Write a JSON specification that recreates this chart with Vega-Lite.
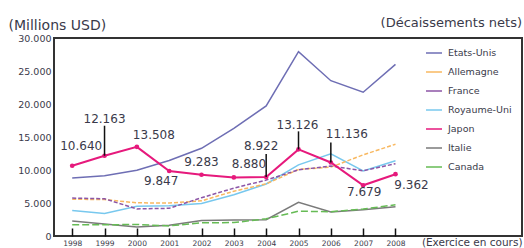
{
  "$schema": "https://vega.github.io/schema/vega-lite/v6.json",
  "width": 468,
  "height": 198,
  "autosize": "none",
  "padding": {"left": 54, "top": 38, "right": 2, "bottom": 12},
  "background": "white",
  "config": {
    "locale": {"number": {"decimal": ",", "thousands": ".", "grouping": [3], "currency": ["", ""]}},
    "view": {"stroke": "#333333", "strokeWidth": 2},
    "font": "DejaVu Sans"
  },
  "title": {"text": "(Décaissements nets)", "anchor": "end", "frame": "group", "fontSize": 13, "fontWeight": "normal", "font": "DejaVu Sans", "color": "#3a3a4a", "offset": -12},
  "data": {"values": [
    {"country": "Etats-Unis", "year": 1998, "value": 8786},
    {"country": "Etats-Unis", "year": 1999, "value": 9145},
    {"country": "Etats-Unis", "year": 2000, "value": 9955},
    {"country": "Etats-Unis", "year": 2001, "value": 11429},
    {"country": "Etats-Unis", "year": 2002, "value": 13290},
    {"country": "Etats-Unis", "year": 2003, "value": 16320},
    {"country": "Etats-Unis", "year": 2004, "value": 19705},
    {"country": "Etats-Unis", "year": 2005, "value": 27935},
    {"country": "Etats-Unis", "year": 2006, "value": 23532},
    {"country": "Etats-Unis", "year": 2007, "value": 21787},
    {"country": "Etats-Unis", "year": 2008, "value": 26008},
    {"country": "Allemagne", "year": 1998, "value": 5581},
    {"country": "Allemagne", "year": 1999, "value": 5515},
    {"country": "Allemagne", "year": 2000, "value": 5030},
    {"country": "Allemagne", "year": 2001, "value": 4990},
    {"country": "Allemagne", "year": 2002, "value": 5324},
    {"country": "Allemagne", "year": 2003, "value": 6784},
    {"country": "Allemagne", "year": 2004, "value": 7900},
    {"country": "Allemagne", "year": 2005, "value": 10082},
    {"country": "Allemagne", "year": 2006, "value": 10435},
    {"country": "Allemagne", "year": 2007, "value": 12291},
    {"country": "Allemagne", "year": 2008, "value": 13910},
    {"country": "France", "year": 1998, "value": 5742},
    {"country": "France", "year": 1999, "value": 5639},
    {"country": "France", "year": 2000, "value": 4105},
    {"country": "France", "year": 2001, "value": 4198},
    {"country": "France", "year": 2002, "value": 5800},
    {"country": "France", "year": 2003, "value": 7253},
    {"country": "France", "year": 2004, "value": 8473},
    {"country": "France", "year": 2005, "value": 10026},
    {"country": "France", "year": 2006, "value": 10601},
    {"country": "France", "year": 2007, "value": 9884},
    {"country": "France", "year": 2008, "value": 10957},
    {"country": "Royaume-Uni", "year": 1998, "value": 3864},
    {"country": "Royaume-Uni", "year": 1999, "value": 3426},
    {"country": "Royaume-Uni", "year": 2000, "value": 4501},
    {"country": "Royaume-Uni", "year": 2001, "value": 4579},
    {"country": "Royaume-Uni", "year": 2002, "value": 4924},
    {"country": "Royaume-Uni", "year": 2003, "value": 6262},
    {"country": "Royaume-Uni", "year": 2004, "value": 7883},
    {"country": "Royaume-Uni", "year": 2005, "value": 10772},
    {"country": "Royaume-Uni", "year": 2006, "value": 12459},
    {"country": "Royaume-Uni", "year": 2007, "value": 9849},
    {"country": "Royaume-Uni", "year": 2008, "value": 11409},
    {"country": "Japon", "year": 1998, "value": 10640},
    {"country": "Japon", "year": 1999, "value": 12163},
    {"country": "Japon", "year": 2000, "value": 13508},
    {"country": "Japon", "year": 2001, "value": 9847},
    {"country": "Japon", "year": 2002, "value": 9283},
    {"country": "Japon", "year": 2003, "value": 8880},
    {"country": "Japon", "year": 2004, "value": 8922},
    {"country": "Japon", "year": 2005, "value": 13126},
    {"country": "Japon", "year": 2006, "value": 11136},
    {"country": "Japon", "year": 2007, "value": 7679},
    {"country": "Japon", "year": 2008, "value": 9362},
    {"country": "Italie", "year": 1998, "value": 2278},
    {"country": "Italie", "year": 1999, "value": 1806},
    {"country": "Italie", "year": 2000, "value": 1376},
    {"country": "Italie", "year": 2001, "value": 1627},
    {"country": "Italie", "year": 2002, "value": 2332},
    {"country": "Italie", "year": 2003, "value": 2433},
    {"country": "Italie", "year": 2004, "value": 2462},
    {"country": "Italie", "year": 2005, "value": 5091},
    {"country": "Italie", "year": 2006, "value": 3641},
    {"country": "Italie", "year": 2007, "value": 3971},
    {"country": "Italie", "year": 2008, "value": 4444},
    {"country": "Canada", "year": 1998, "value": 1707},
    {"country": "Canada", "year": 1999, "value": 1706},
    {"country": "Canada", "year": 2000, "value": 1744},
    {"country": "Canada", "year": 2001, "value": 1533},
    {"country": "Canada", "year": 2002, "value": 2004},
    {"country": "Canada", "year": 2003, "value": 2031},
    {"country": "Canada", "year": 2004, "value": 2599},
    {"country": "Canada", "year": 2005, "value": 3756},
    {"country": "Canada", "year": 2006, "value": 3684},
    {"country": "Canada", "year": 2007, "value": 4080},
    {"country": "Canada", "year": 2008, "value": 4725}
  ]},
  "encoding": {
    "x": {"field": "year", "type": "quantitative",
      "scale": {"domain": [1997.437, 2011.913], "nice": false, "zero": false},
      "axis": {"values": [1998, 1999, 2000, 2001, 2002, 2003, 2004, 2005, 2006, 2007, 2008], "format": "d", "grid": false, "domain": false,
        "tickSize": -8, "tickColor": "#111111", "tickWidth": 1.5, "labelFontSize": 7.5, "labelPadding": 11, "labelColor": "#3a3a4a",
        "title": "(Exercice en cours)", "titleX": 468, "titleY": 6, "titleAlign": "right", "titleBaseline": "middle", "titleFontSize": 10.5, "titleFontWeight": "normal", "titleColor": "#3a3a4a"}},
    "y": {"field": "value", "type": "quantitative",
      "scale": {"domain": [0, 30000], "nice": false},
      "axis": {"values": [0, 5000, 10000, 15000, 20000, 25000, 30000], "format": ",.0f", "grid": false, "domain": false, "ticks": false,
        "labelPadding": 3, "labelFontSize": 9.5, "labelColor": "#3a3a4a",
        "title": "(Millions USD)", "titleAngle": 0, "titleX": -46, "titleY": -9, "titleAlign": "left", "titleBaseline": "alphabetic", "titleFontSize": 14, "titleFontWeight": "normal", "titleColor": "#3a3a4a"}}
  },
  "layer": [
    {
      "transform": [{"filter": "datum.country == 'Etats-Unis' || datum.country == 'Royaume-Uni' || datum.country == 'Italie'"}],
      "mark": {"type": "line", "strokeWidth": 1.5},
      "encoding": {
        "color": {"field": "country", "type": "nominal",
          "scale": {"domain": ["Etats-Unis", "Allemagne", "France", "Royaume-Uni", "Japon", "Italie", "Canada"],
                    "range": ["#6e6eb4", "#f8b860", "#8c55a6", "#78c8ee", "#e6197c", "#7a7a7a", "#66bb55"]},
          "legend": {"orient": "none", "legendX": 371, "legendY": 6, "title": null, "symbolType": "stroke", "symbolSize": 256, "symbolStrokeWidth": 1.5,
                     "labelFontSize": 9.5, "labelColor": "#3a3a4a", "rowPadding": 5, "padding": 0, "labelOffset": 5}}
      }
    },
    {
      "transform": [{"filter": "datum.country == 'Allemagne' || datum.country == 'France'"}],
      "mark": {"type": "line", "strokeWidth": 1.5, "strokeDash": [4, 2]},
      "encoding": {"color": {"field": "country", "type": "nominal"}}
    },
    {
      "transform": [{"filter": "datum.country == 'Canada'"}],
      "mark": {"type": "line", "strokeWidth": 1.5, "strokeDash": [7, 3]},
      "encoding": {"color": {"field": "country", "type": "nominal"}}
    },
    {
      "transform": [{"filter": "datum.country == 'Japon'"}],
      "mark": {"type": "line", "strokeWidth": 2, "color": "#e6197c"},
      "encoding": {}
    },
    {
      "transform": [{"filter": "datum.country == 'Japon'"}],
      "mark": {"type": "circle", "size": 22, "color": "#e6197c", "opacity": 1},
      "encoding": {}
    },
    {
      "transform": [{"filter": "datum.country == 'Japon' && datum.year == 1999"}],
      "mark": {"type": "rule", "color": "#111111", "strokeWidth": 1.5, "y2Offset": -30},
      "encoding": {"y2": {"field": "value"}}
    },
    {
      "transform": [{"filter": "datum.country == 'Japon' && datum.year == 2004"}],
      "mark": {"type": "rule", "color": "#111111", "strokeWidth": 1.5, "y2Offset": -23},
      "encoding": {"y2": {"field": "value"}}
    },
    {
      "transform": [{"filter": "datum.country == 'Japon' && datum.year == 2005"}],
      "mark": {"type": "rule", "color": "#111111", "strokeWidth": 1.5, "y2Offset": -18},
      "encoding": {"y2": {"field": "value"}}
    },
    {
      "transform": [{"filter": "datum.country == 'Japon' && datum.year == 2006"}],
      "mark": {"type": "rule", "color": "#111111", "strokeWidth": 1.5, "y2Offset": -20},
      "encoding": {"y2": {"field": "value"}}
    },
    {
      "transform": [{"filter": "datum.country == 'Japon' && datum.year == 1998"}],
      "mark": {"type": "text", "fontSize": 12, "color": "#3a3a4a", "dx": 9, "dy": -20},
      "encoding": {"text": {"field": "value", "type": "quantitative", "format": ","}}
    },
    {
      "transform": [{"filter": "datum.country == 'Japon' && datum.year == 1999"}],
      "mark": {"type": "text", "fontSize": 12, "color": "#3a3a4a", "dx": 0, "dy": -37},
      "encoding": {"text": {"field": "value", "type": "quantitative", "format": ","}}
    },
    {
      "transform": [{"filter": "datum.country == 'Japon' && datum.year == 2000"}],
      "mark": {"type": "text", "fontSize": 12, "color": "#3a3a4a", "dx": 17, "dy": -12},
      "encoding": {"text": {"field": "value", "type": "quantitative", "format": ","}}
    },
    {
      "transform": [{"filter": "datum.country == 'Japon' && datum.year == 2001"}],
      "mark": {"type": "text", "fontSize": 12, "color": "#3a3a4a", "dx": -8, "dy": 10},
      "encoding": {"text": {"field": "value", "type": "quantitative", "format": ","}}
    },
    {
      "transform": [{"filter": "datum.country == 'Japon' && datum.year == 2002"}],
      "mark": {"type": "text", "fontSize": 12, "color": "#3a3a4a", "dx": 0, "dy": -13},
      "encoding": {"text": {"field": "value", "type": "quantitative", "format": ","}}
    },
    {
      "transform": [{"filter": "datum.country == 'Japon' && datum.year == 2003"}],
      "mark": {"type": "text", "fontSize": 12, "color": "#3a3a4a", "dx": 15, "dy": -13},
      "encoding": {"text": {"field": "value", "type": "quantitative", "format": ","}}
    },
    {
      "transform": [{"filter": "datum.country == 'Japon' && datum.year == 2004"}],
      "mark": {"type": "text", "fontSize": 12, "color": "#3a3a4a", "dx": -5, "dy": -31},
      "encoding": {"text": {"field": "value", "type": "quantitative", "format": ","}}
    },
    {
      "transform": [{"filter": "datum.country == 'Japon' && datum.year == 2005"}],
      "mark": {"type": "text", "fontSize": 12, "color": "#3a3a4a", "dx": -1, "dy": -24},
      "encoding": {"text": {"field": "value", "type": "quantitative", "format": ","}}
    },
    {
      "transform": [{"filter": "datum.country == 'Japon' && datum.year == 2006"}],
      "mark": {"type": "text", "fontSize": 12, "color": "#3a3a4a", "dx": 16, "dy": -29},
      "encoding": {"text": {"field": "value", "type": "quantitative", "format": ","}}
    },
    {
      "transform": [{"filter": "datum.country == 'Japon' && datum.year == 2007"}],
      "mark": {"type": "text", "fontSize": 12, "color": "#3a3a4a", "dx": 1, "dy": 7},
      "encoding": {"text": {"field": "value", "type": "quantitative", "format": ","}}
    },
    {
      "transform": [{"filter": "datum.country == 'Japon' && datum.year == 2008"}],
      "mark": {"type": "text", "fontSize": 12, "color": "#3a3a4a", "dx": 16, "dy": 11},
      "encoding": {"text": {"field": "value", "type": "quantitative", "format": ","}}
    }
  ]
}
